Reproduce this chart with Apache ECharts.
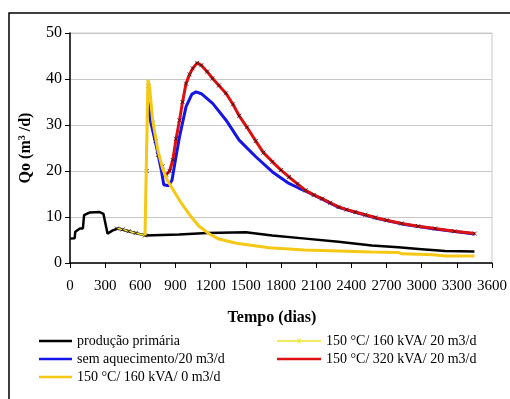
<!DOCTYPE html>
<html>
<head>
<meta charset="utf-8">
<script src="https://cdn.jsdelivr.net/npm/echarts@6/dist/echarts.min.js"></script>
<style>
  html, body { margin: 0; padding: 0; background: #fff; }
  #chart { width: 510px; height: 399px; }
</style>
</head>
<body>
<div id="chart"></div>
<script>
// series names (legend)
const names = [
  "produção primária",
  "150 °C/ 160 kVA/ 20 m3/d",
  "sem aquecimento/20 m3/d",
  "150 °C/ 320 kVA/ 20 m3/d",
  "150 °C/ 160 kVA/ 0 m3/d"
];

// [dias, Qo]
const primaria = [
  [0, 5.3], [40, 5.4], [45, 6.8], [85, 7.5], [110, 7.5], [120, 10.4], [170, 11.0],
  [250, 11.1], [285, 10.7], [320, 6.4], [365, 7.1], [410, 7.5], [500, 6.9], [640, 6.0],
  [650, 6.2], [930, 6.2], [940, 6.5], [1170, 6.5], [1180, 6.7], [1500, 6.7],
  [1725, 6.0], [2010, 5.3], [2290, 4.6], [2575, 3.8], [2800, 3.4], [3000, 3.0],
  [3200, 2.6], [3450, 2.5]
];

const aq160_20 = [
  [400, 7.5], [450, 7.3], [500, 6.9], [560, 6.5], [640, 6.0], [655, 20], [670, 38.5],
  [705, 30.5], [730, 26.5], [750, 23.5], [790, 21], [820, 19.2], [850, 20], [877, 22.4],
  [905, 27], [934, 31], [960, 35], [990, 39], [1020, 41], [1047, 42.3], [1085, 43.5],
  [1120, 43], [1170, 41.6], [1217, 40.1], [1270, 38.6], [1330, 36.9], [1390, 34.5],
  [1443, 32], [1510, 29.5], [1585, 26.5], [1650, 24], [1727, 22], [1800, 20.2],
  [1868, 18.7], [1940, 17.2], [2010, 15.8], [2080, 14.8], [2151, 14.0], [2220, 13.1],
  [2292, 12.2], [2360, 11.6], [2434, 11.1], [2520, 10.5], [2604, 9.9], [2700, 9.3],
  [2830, 8.6], [2970, 8.0], [3113, 7.5], [3280, 6.9], [3453, 6.4]
];

const semAquec = [
  [665, 35], [690, 30.5], [740, 25], [780, 20], [800, 17], [840, 16.8], [870, 18],
  [900, 22.5], [934, 27.4], [990, 34], [1040, 36.7], [1075, 37.2], [1120, 36.8],
  [1217, 34.7], [1330, 31.1], [1443, 26.7], [1585, 23.1], [1727, 19.8], [1868, 17.3],
  [1950, 16.3], [2010, 15.6], [2151, 13.9], [2292, 12.1], [2434, 11.0], [2604, 9.8],
  [2830, 8.5], [3113, 7.4], [3453, 6.3]
];

const aq320_20 = [
  [820, 19.2], [850, 20], [877, 22.4], [905, 27], [934, 31], [960, 35], [990, 39],
  [1020, 41], [1047, 42.3], [1085, 43.5], [1120, 43], [1170, 41.6], [1217, 40.1],
  [1270, 38.6], [1330, 36.9], [1390, 34.5], [1443, 32], [1510, 29.5], [1585, 26.5],
  [1650, 24], [1727, 22], [1800, 20.2], [1868, 18.7], [1940, 17.2], [2010, 15.8],
  [2080, 14.8], [2151, 14.0], [2220, 13.1], [2292, 12.2], [2360, 11.6], [2434, 11.1],
  [2520, 10.5], [2604, 9.9], [2700, 9.3], [2830, 8.6], [2970, 8.0], [3113, 7.5],
  [3280, 6.9], [3453, 6.4]
];

const aq160_0 = [
  [640, 6.0], [650, 20], [665, 39.8], [680, 38], [705, 31], [750, 24.5], [790, 20.5],
  [830, 18], [890, 15.5], [950, 13], [1020, 10.5], [1100, 8], [1190, 6.3], [1270, 5.2],
  [1420, 4.3], [1700, 3.3], [2000, 2.8], [2570, 2.4], [2800, 2.3], [2830, 2.0],
  [3100, 1.8], [3200, 1.5], [3450, 1.5]
];

const serif = "Liberation Serif";
const xMark = "path://M0,0L10,10M10,0L0,10";
// legend icons drawn in a 44x6 box (tiny corner specks keep the box size)
const lineXIcon = "path://M0,2.3L44,2.3L44,3.7L0,3.7Z M20,0.5L21,0.5L24,5.5L23,5.5Z M23,0.5L24,0.5L21,5.5L20,5.5Z M0,0L0.01,0L0,0.01Z M44,6L43.99,6L44,5.99Z";
const lineIcon = "path://M0,1.8L44,1.8L44,4.2L0,4.2Z M0,0L0.01,0L0,0.01Z M44,6L43.99,6L44,5.99Z";

const chart = echarts.init(document.getElementById("chart"));

const lineSeries = (name, data, color, width, z) => ({
  name: name,
  type: "line",
  data: data,
  showSymbol: false,
  symbol: "none",
  z: z,
  lineStyle: { color: color, width: width },
  itemStyle: { color: color },
  animation: false
});

const legendText = { fontFamily: serif, fontSize: 14, color: "#000" };

chart.setOption({
  backgroundColor: "#fff",
  textStyle: { fontFamily: serif, color: "#000" },
  grid: {
    left: 70, right: 16, top: 33, bottom: 136,
    show: true, borderColor: "#c8c8c8", borderWidth: 1
  },
  graphic: [{
    type: "rect",
    shape: { x: 9, y: 13, width: 600, height: 500 },
    style: { fill: "none", stroke: "#000", lineWidth: 1.5 },
    silent: true
  }],
  legend: [{
    data: [names[0], names[2], names[4]],
    orient: "vertical",
    left: 34, top: 329,
    itemWidth: 33, itemHeight: 2.5, itemGap: 4,
    icon: "rect",
    textStyle: legendText
  }, {
    data: [
      { name: names[1], icon: lineXIcon },
      { name: names[3], icon: lineIcon }
    ],
    orient: "vertical",
    left: 272, top: 329,
    itemWidth: 44, itemHeight: 6, itemGap: 4,
    textStyle: legendText
  }],
  xAxis: {
    type: "value",
    min: 0, max: 3600, interval: 300,
    name: "Tempo (dias)",
    nameLocation: "middle",
    nameGap: 47,
    nameTextStyle: { fontFamily: serif, fontWeight: "bold", fontSize: 16, color: "#000", padding: [0, 18, 0, 0] },
    axisLine: { lineStyle: { color: "#000", width: 1.5 } },
    axisTick: { lineStyle: { color: "#000" }, length: 5 },
    axisLabel: {
      fontFamily: serif, fontSize: 15, color: "#000", margin: 16,
      formatter: (v) => String(v)
    },
    splitLine: { show: false }
  },
  yAxis: {
    type: "value",
    min: 0, max: 50, interval: 10,
    name: "Qo (m{sup|3} /d)",
    nameLocation: "middle",
    nameGap: 36,
    nameTextStyle: {
      fontFamily: serif, fontWeight: "bold", fontSize: 16, color: "#000",
      rich: { sup: { fontFamily: serif, fontWeight: "bold", fontSize: 10, verticalAlign: "top", padding: [0, 0, 7, 0] } }
    },
    axisLine: { show: true, lineStyle: { color: "#000", width: 1.5 } },
    axisTick: { show: true, lineStyle: { color: "#000" }, length: 5 },
    axisLabel: { fontFamily: serif, fontSize: 16, color: "#000", margin: 8 },
    splitLine: { lineStyle: { color: "#c8c8c8", width: 1 } }
  },
  series: [
    lineSeries(names[0], primaria, "#000000", 2.5, 2),
    lineSeries(names[1], aq160_20, "#ece62e", 1.5, 3),
    lineSeries(names[2], semAquec, "#1515e6", 3, 4),
    lineSeries(names[3], aq320_20, "#dd1111", 3, 5),
    {
      // cross markers of the 160 kVA / 20 m3/d run, drawn over the lines
      name: names[1],
      type: "scatter",
      data: aq160_20,
      symbol: xMark,
      symbolSize: 4,
      z: 6,
      itemStyle: { color: "none", borderColor: "#2a0a0a", borderWidth: 1 },
      animation: false
    },
    lineSeries(names[4], aq160_0, "#f5c816", 3, 7)
  ]
});
</script>
</body>
</html>
